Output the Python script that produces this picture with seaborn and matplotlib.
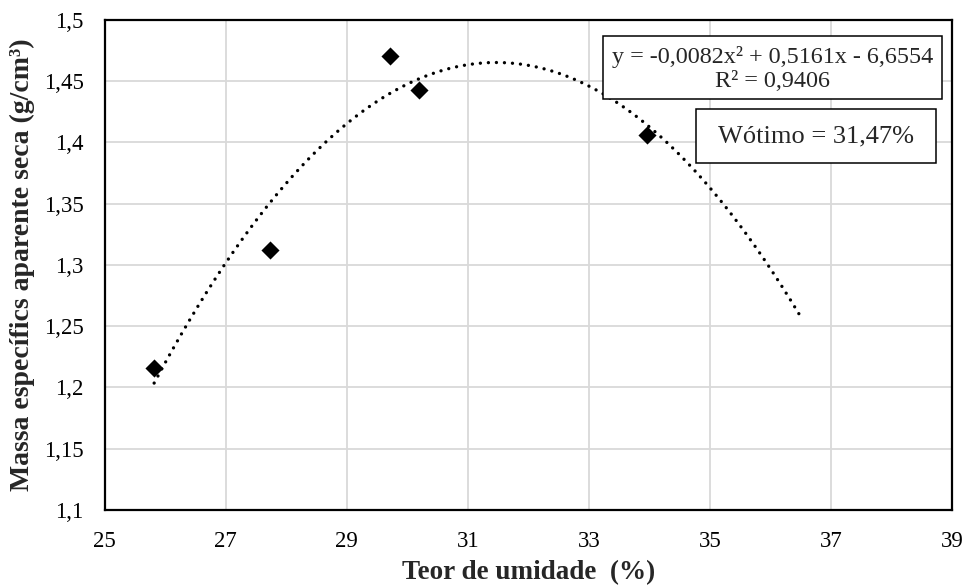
import numpy as np
import pandas as pd
import seaborn as sns
import matplotlib.pyplot as plt
from matplotlib.patches import Rectangle
from matplotlib.ticker import FuncFormatter

# pontos do ensaio de compactacao
umidade = [25.82, 27.74, 29.72, 30.20, 33.97]
massa = [1.216, 1.312, 1.471, 1.443, 1.406]

# coeficientes da linha de tendencia (polinomial 2a ordem, como no Excel)
coefs = [-0.0082, 0.5161, -6.6554]
r2 = 0.9406
w_otimo = 31.47
forecast_fwd = 2.5

x_ticks = [25, 27, 29, 31, 33, 35, 37, 39]
y_ticks = [1.1, 1.15, 1.2, 1.25, 1.3, 1.35, 1.4, 1.45, 1.5]

sns.set_theme(style='whitegrid')
plt.rcParams['font.family'] = ['Liberation Serif', 'DejaVu Serif']

fig, ax = plt.subplots(figsize=(9.65, 5.88), dpi=100)
fig.subplots_adjust(left=0.1083, right=0.9865, top=0.966, bottom=0.1327)

# linha de tendencia
xt = np.linspace(min(umidade), max(umidade) + forecast_fwd, 300)
df_trend = pd.DataFrame({'x': xt, 'y': np.polyval(coefs, xt)})
sns.lineplot(data=df_trend, x='x', y='y', color='black', linewidth=2.4,
             linestyle=(0, (0.01, 2.4)), dash_capstyle='round', ax=ax)

# pontos
df = pd.DataFrame({'umidade': umidade, 'massa': massa})
sns.scatterplot(data=df, x='umidade', y='massa', marker='D', color='black',
                s=85, edgecolor='black', linewidth=0, zorder=5, ax=ax)

ax.set_xlim(25, 39)
ax.set_ylim(1.1, 1.5)
ax.set_xticks(x_ticks)
ax.set_yticks(y_ticks)
ax.yaxis.set_major_formatter(FuncFormatter(lambda v, p: ('%g' % round(v, 2)).replace('.', ',')))
ax.grid(True, color='#d9d9d9', linewidth=1.3)
ax.tick_params(axis='both', which='both', length=0, labelsize=16.5, colors='black')
ax.tick_params(axis='x', pad=15)
ax.tick_params(axis='y', pad=15)
for sp in ax.spines.values():
    sp.set_visible(True)
    sp.set_color('black')
    sp.set_linewidth(1.6)

ax.set_xlabel('Teor de umidade  (%)', fontsize=19.5, weight='bold', labelpad=6)
ax.set_ylabel('Massa específics aparente seca (g/cm³)', fontsize=20, weight='bold', labelpad=6)

# caixas de texto (equacao e umidade otima)
ax.add_patch(Rectangle((0.5886, 0.8382), 0.3992, 0.1291, transform=ax.transAxes,
                       facecolor='white', edgecolor='black', linewidth=1.1, zorder=6))
ax.add_patch(Rectangle((0.6979, 0.7088), 0.2832, 0.1090, transform=ax.transAxes,
                       facecolor='white', edgecolor='black', linewidth=1.1, zorder=6))

eq = 'y = {:.4f}x² + {:.4f}x - {:.4f}\nR² = {:.4f}'.format(coefs[0], coefs[1], -coefs[2], r2).replace('.', ',')
ax.text(0.788, 0.9, eq, transform=ax.transAxes, ha='center', va='center',
        fontsize=17.4, linespacing=1.2, zorder=7)
ax.text(0.8395, 0.7633, 'Wótimo = {:.2f}%'.format(w_otimo).replace('.', ','), transform=ax.transAxes,
        ha='center', va='center', fontsize=19, zorder=7)

fig.savefig('out.png', dpi=100)
